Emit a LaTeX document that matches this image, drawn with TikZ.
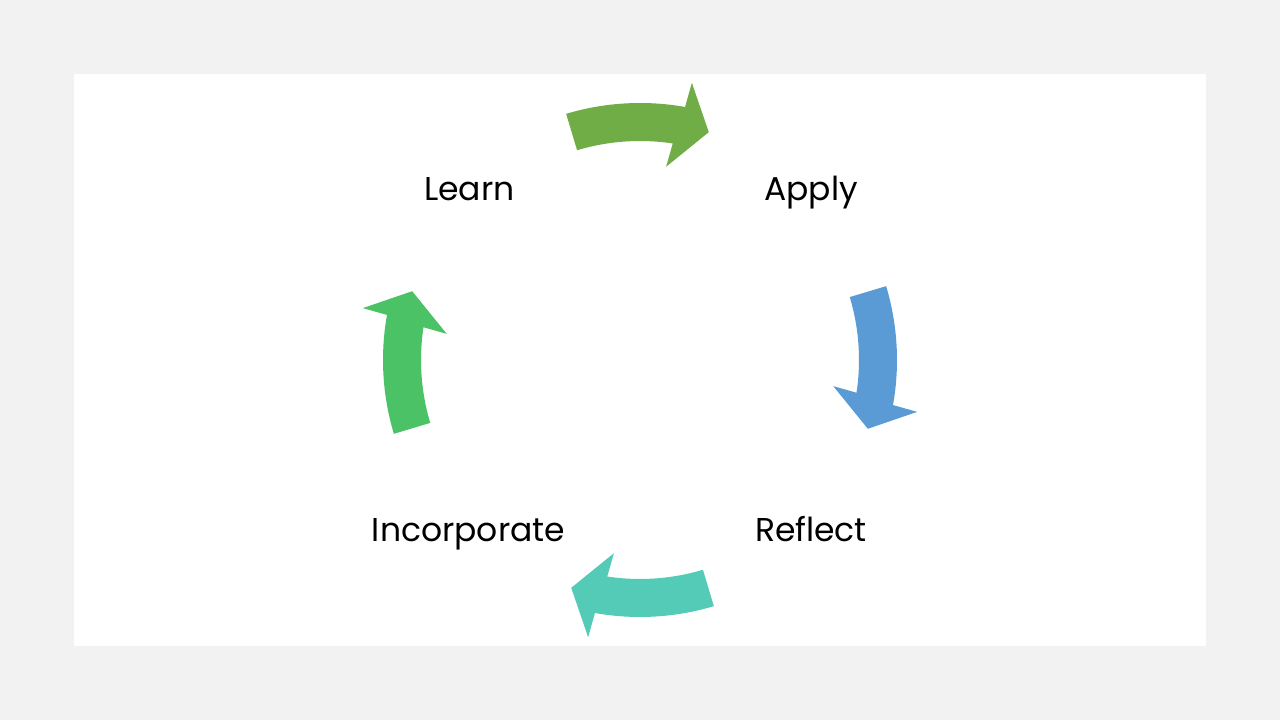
\documentclass[tikz,border=0pt]{standalone}
\usepackage{fontspec}
\setmainfont{Poppins}
\definecolor{bggray}{HTML}{F2F2F2}
\definecolor{cgreenA}{HTML}{70AD47}
\definecolor{cblue}{HTML}{5B9BD5}
\definecolor{cteal}{HTML}{53CBB6}
\definecolor{cgreenB}{HTML}{4AC265}
\tikzset{
  lbl/.style={anchor=base, font=\fontsize{33}{40}\selectfont, text=black, inner sep=0pt},
  cyclearrow/.pic={
    \fill[pic actions] (106.7:257) arc[start angle=106.7, end angle=79.9, radius=257]
      -- (79.4:282) -- (73.2:238) -- (82.3:195) -- (81.4:219)
      arc[start angle=81.4, end angle=106.7, radius=219] -- cycle;
  }
}
\begin{document}
\begin{tikzpicture}[x=1pt,y=1pt]
\fill[bggray] (0,0) rectangle (1280,720);
\useasboundingbox (0,0) rectangle (1280,720);
\fill[white] (74,74) rectangle (1206,646);
\pic[fill=cgreenA] at (640,360) {cyclearrow};
\pic[fill=cblue, rotate=-90] at (640,360) {cyclearrow};
\pic[fill=cteal, rotate=180] at (640,360) {cyclearrow};
\pic[fill=cgreenB, rotate=90] at (640,360) {cyclearrow};
\node[lbl] (learn) at (469.5,519.5) {Learn};
\node[lbl] (apply) at (811,519.5) {Apply};
\node[lbl] (reflect) at (811,178.5) {Reflect};
\node[lbl] (incorp) at (468.5,178.5) {Incorporate};
\end{tikzpicture}
\end{document}
